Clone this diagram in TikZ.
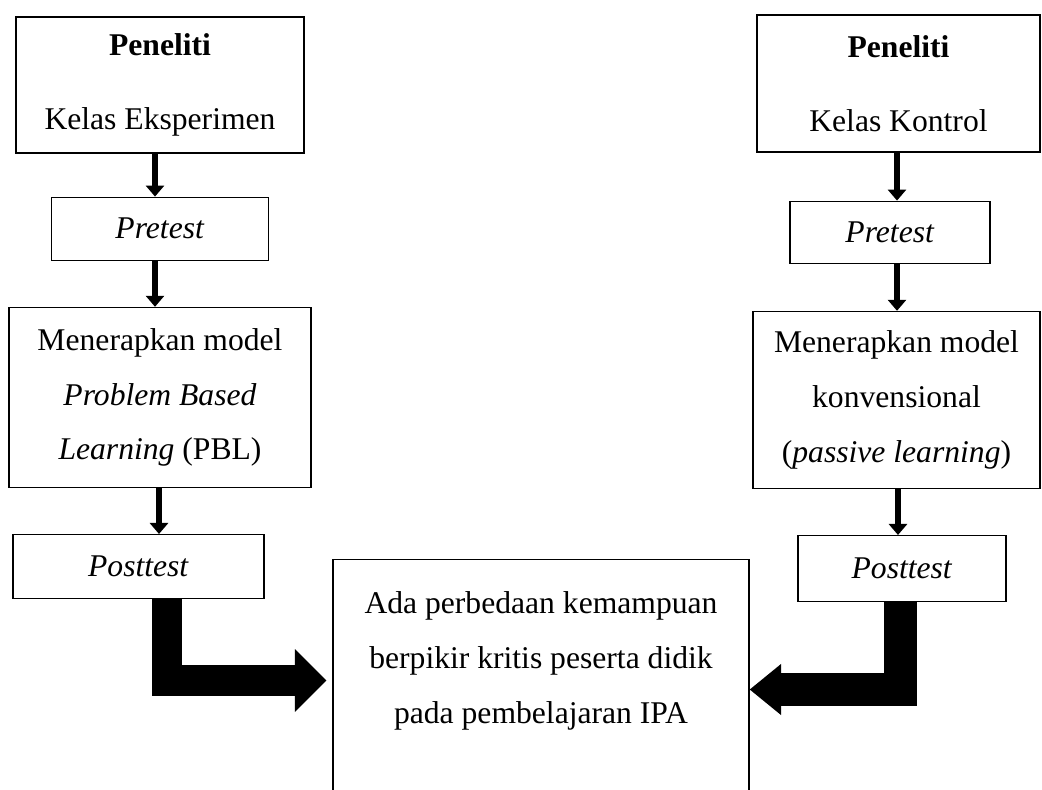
\documentclass[tikz,border=0pt]{standalone}
\usepackage{fontspec}
\setmainfont{Liberation Serif}
\usetikzlibrary{arrows.meta,positioning}

\tikzset{
  box/.style={draw, line width=0.7pt, align=center, inner sep=0pt,
    font=\fontsize{18}{31.2}\selectfont},
  flow/.style={line width=0.13cm, -{Triangle[width=0.36cm,length=0.22cm]}},
  bigflow/.style 2 args={line width=#1, -{Triangle[width=#2,length=0.63cm]}}
}

\begin{document}
\begin{tikzpicture}[x=0.02cm, y=-0.02cm]
    \useasboundingbox (0,0) rectangle (1042,789);
    \clip (0,0) rectangle (1042,789);
    % kelas eksperimen
    \node[box, minimum width=5.76cm, minimum height=2.72cm] (eks) at (160,85) {\textbf{Peneliti}\\[11pt]Kelas Eksperimen};
    \node[box, minimum width=4.34cm, minimum height=1.26cm] (pre1) [below=0.86cm of eks] {\textit{Pretest}};
    \node[box, minimum width=6.04cm, minimum height=3.6cm] (pbl) [below=0.92cm of pre1] {Menerapkan model\\\textit{Problem Based}\\\textit{Learning} (PBL)};
    \node[box, minimum width=5.02cm, minimum height=1.28cm] (post1) [below=0.92cm of pbl, xshift=-0.43cm] {\textit{Posttest}};
    % kelas kontrol
    \node[box, minimum width=5.66cm, minimum height=2.74cm] (kon) at (898.5,83.5) {\textbf{Peneliti}\\[11pt]Kelas Kontrol};
    \node[box, minimum width=4cm, minimum height=1.24cm] (pre2) [below=0.96cm of kon, xshift=-0.17cm] {\textit{Pretest}};
    \node[box, minimum width=5.74cm, minimum height=3.54cm] (konv) [below=0.94cm of pre2, xshift=0.13cm] {Menerapkan model\\konvensional\\(\textit{passive learning})};
    \node[box, minimum width=4.16cm, minimum height=1.32cm] (post2) [below=0.92cm of konv, xshift=0.11cm] {\textit{Posttest}};
    % hasil
    \node[box, minimum width=8.32cm, inner ysep=0.64cm, anchor=north] (hasil) at (541,559) {Ada perbedaan kemampuan\\berpikir kritis peserta didik\\pada pembelajaran IPA\\\mbox{}};

    \path[flow]
    (eks.south -| 155,0) edge (pre1.north -| 155,0)
    (pre1.south -| 155,0) edge (pbl.north -| 155,0)
    (pbl.south -| 159,0) edge (post1.north -| 159,0)
    (kon.south -| 897,0) edge (pre2.north -| 897,0)
    (pre2.south -| 897,0) edge (konv.north -| 897,0)
    (konv.south -| 898,0) edge (post2.north -| 898,0)
    ;
    \draw[bigflow={0.62cm}{1.22cm}, shorten >=0.12cm] (post1.south -| 167,0) |- (hasil.west |- 0,680.5);
    \draw[bigflow={0.66cm}{0.98cm}] (post2.south -| 900,0) |- (hasil.east |- 0,689.5);
\end{tikzpicture}
\end{document}
